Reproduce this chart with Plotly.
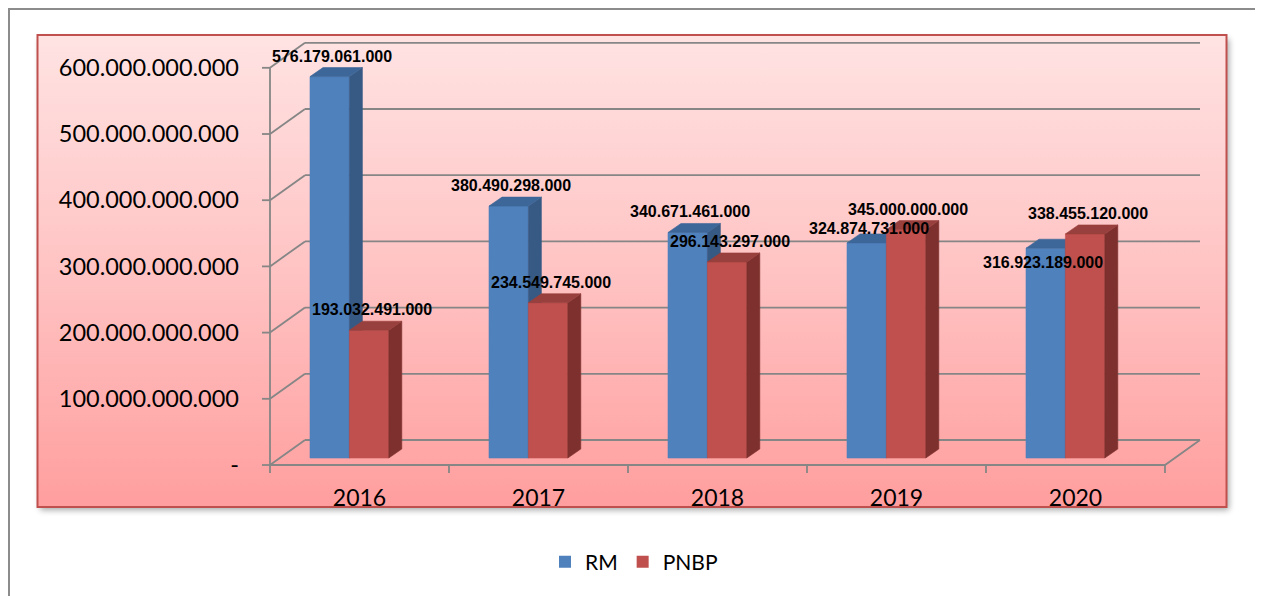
import base64
import plotly.graph_objects as go

# ---------------- data ----------------
categories = ["2016", "2017", "2018", "2019", "2020"]
series_names = ["RM", "PNBP"]
rm_values = [576179061000, 380490298000, 340671461000, 324874731000, 316923189000]
pnbp_values = [193032491000, 234549745000, 296143297000, 345000000000, 338455120000]
y_tick_values = [0, 100000000000, 200000000000, 300000000000, 400000000000, 500000000000, 600000000000]
y_tick_labels = ["-", "100.000.000.000", "200.000.000.000", "300.000.000.000",
                 "400.000.000.000", "500.000.000.000", "600.000.000.000"]

# label nudges in pixels (dx, dy up) per bar
rm_label_shift = [(2, 20.5), (2, 20.5), (2, 20.5), (2, 14), (-2.5, -14.3)]
pnbp_label_shift = [(2.5, 20.5), (2.5, 20.5), (2.5, 20.5), (2, 20.5), (2.5, 20.5)]

# ---------------- styling / geometry (pixels, page coords) ----------------
PAGE_OFF = 8                      # default body margin of the html page
W, H = 1263 - PAGE_OFF, 596 - PAGE_OFF

def P(v):
    return v - PAGE_OFF

PLOT_L, PLOT_R, PLOT_T, PLOT_B = P(250), P(1210), P(30), P(480)
AXIS_X0 = P(270)       # pixel of front axis (category -0.5)
FLOOR_Y = P(465)       # pixel of value 0 at front
CAT_PX = 179.0         # pixels per category
VAL_PX = 66.2 / 100e9  # pixels per value unit

def xu(px):
    return px / CAT_PX

def yu(px):
    return px / VAL_PX

x_range = [-0.5 - xu(AXIS_X0 - PLOT_L), -0.5 + xu(PLOT_R - AXIS_X0)]
y_range = [-yu(PLOT_B - FLOOR_Y), yu(FLOOR_Y - PLOT_T)]

DX, DY = xu(35), yu(25)           # wall depth
BASE = yu(7)                       # bar plane offset
BAR_W = xu(39.4)
OFFS = [-xu(49.5), -xu(49.5) + BAR_W]
SDX, SDY = xu(13), yu(9)           # bar depth

GRID = "#868686"
COLORS = {
    "RM": ("#4F81BD", "#375A85", "#3D6699"),
    "PNBP": ("#C0504D", "#7E302E", "#98403D"),
}

n = len(categories)
x_left_edge = -0.5
x_right_edge = n - 0.5
top_tick = y_tick_values[-1]

fig = go.Figure()

# ---- 3D walls / grid ----
gx, gy = [], []
for v in y_tick_values:
    gx += [x_left_edge + DX, x_right_edge + DX, None]
    gy += [v + DY, v + DY, None]
    gx += [x_left_edge, x_left_edge + DX, None]
    gy += [v, v + DY, None]
gx += [x_left_edge, x_left_edge, None]
gy += [0, top_tick, None]
gx += [x_left_edge, x_right_edge, x_right_edge + DX, None]
gy += [0, 0, DY, None]
for v in y_tick_values:
    gx += [x_left_edge - xu(8), x_left_edge, None]
    gy += [v, v, None]
for k in range(n + 1):
    b = x_left_edge + k
    gx += [b, b, None]
    gy += [0, -yu(8), None]
fig.add_trace(go.Scatter(x=gx, y=gy, mode="lines", line=dict(color=GRID, width=1.8),
                         hoverinfo="skip", showlegend=False))

# ---- bars ----
for s_idx, (name, vals) in enumerate(zip(series_names, [rm_values, pnbp_values])):
    front, side, top = COLORS[name]
    fx, fy, sx, sy, tx, ty = [], [], [], [], [], []
    for i, v in enumerate(vals):
        l = i + OFFS[s_idx]
        r = l + BAR_W
        b = BASE
        t = BASE + v
        fx += [l, r, r, l, l, None]
        fy += [b, b, t, t, b, None]
        sx += [r, r + SDX, r + SDX, r, r, None]
        sy += [b, b + SDY, t + SDY, t, b, None]
        tx += [l, r, r + SDX, l + SDX, l, None]
        ty += [t, t, t + SDY, t + SDY, t, None]
    for xs, ys, col in [(fx, fy, front), (sx, sy, side), (tx, ty, top)]:
        fig.add_trace(go.Scatter(x=xs, y=ys, mode="lines", fill="toself", fillcolor=col,
                                 line=dict(color=col, width=0.6), hoverinfo="skip",
                                 showlegend=False))
    # legend entry
    fig.add_trace(go.Scatter(x=[None], y=[None], mode="markers", name=name,
                             marker=dict(symbol="square", size=15, color=front)))

# ---- data labels ----
def fmt(v):
    return f"{v:,}".replace(",", ".")

for s_idx, (vals, shifts) in enumerate([(rm_values, rm_label_shift), (pnbp_values, pnbp_label_shift)]):
    for i, v in enumerate(vals):
        cx = i + OFFS[s_idx] + BAR_W / 2
        fig.add_annotation(x=cx, y=BASE + v, text=fmt(v), showarrow=False,
                           xshift=shifts[i][0], yshift=shifts[i][1],
                           xanchor="center", yanchor="middle",
                           font=dict(family="Liberation Sans, Arial", size=16, color="black",
                                     weight="bold"))

# ---- background decoration (frame, gradient plot area with shadow) ----
svg = f'''<svg xmlns="http://www.w3.org/2000/svg" width="{W}" height="{H}" viewBox="0 0 {W} {H}">
<defs>
<linearGradient id="g" x1="0" y1="0" x2="0" y2="1">
<stop offset="0" stop-color="#FFE3E3"/><stop offset="0.5" stop-color="#FFC3C3"/><stop offset="1" stop-color="#FF9E9E"/>
</linearGradient>
<filter id="s" x="-5%" y="-10%" width="110%" height="120%"><feGaussianBlur stdDeviation="3"/></filter>
</defs>
<rect x="0" y="0" width="{W}" height="{H}" fill="white"/>
<rect x="1" y="1" width="1247" height="640" fill="white" stroke="#8C8C8C" stroke-width="2"/>
<rect x="{P(40)}" y="{P(39)}" width="1189" height="471" fill="#000" opacity="0.35" filter="url(#s)"/>
<rect x="{P(37.5)}" y="{P(35)}" width="1189" height="472" fill="url(#g)" stroke="#C0504D" stroke-width="2"/>
</svg>'''
src = "data:image/svg+xml;base64," + base64.b64encode(svg.encode()).decode()
pw, ph = PLOT_R - PLOT_L, PLOT_B - PLOT_T
fig.add_layout_image(dict(source=src, xref="paper", yref="paper",
                          x=-PLOT_L / pw, y=PLOT_B / ph, sizex=W / pw, sizey=H / ph,
                          xanchor="left", yanchor="top", sizing="stretch", layer="below"))

fig.update_layout(
    width=W, height=H,
    margin=dict(l=PLOT_L, r=W - PLOT_R, t=PLOT_T, b=H - PLOT_B, autoexpand=False),
    paper_bgcolor="white", plot_bgcolor="rgba(0,0,0,0)",
    showlegend=True,
    legend=dict(orientation="h", x=(P(634) - PLOT_L) / pw, xanchor="center",
                y=(PLOT_B - P(562)) / ph, yanchor="middle",
                font=dict(family="Lato", size=21, color="black"),
                bgcolor="rgba(0,0,0,0)", itemsizing="constant"),
    xaxis=dict(range=x_range, tickvals=list(range(n)), ticktext=categories,
               showgrid=False, zeroline=False, showline=False, ticks="",
               tickfont=dict(family="Lato", size=23, color="black"),
               ticklabelstandoff=2, fixedrange=True),
    yaxis=dict(range=y_range, tickvals=y_tick_values, ticktext=y_tick_labels,
               showgrid=False, zeroline=False, showline=False, ticks="",
               tickfont=dict(family="Lato", size=23.5, color="black"),
               ticklabelstandoff=10, fixedrange=True),
)

fig.write_html("out.html")
